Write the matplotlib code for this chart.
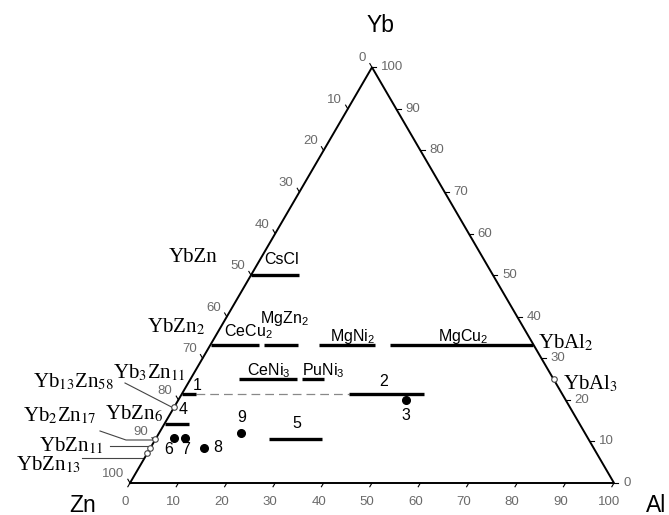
import numpy as np
import matplotlib
matplotlib.use('Agg')
import matplotlib.pyplot as plt

plt.rcParams['mathtext.fontset'] = 'custom'
plt.rcParams['mathtext.rm'] = 'Liberation Sans'
plt.rcParams['mathtext.it'] = 'Liberation Sans'
plt.rcParams['mathtext.bf'] = 'Liberation Sans:bold'

# phase segments: constant Yb (at.%), Al from .. to
seg_names = ['CsCl', 'CeCu2', 'MgZn2', 'MgNi2', 'MgCu2', 'CeNi3', 'PuNi3', '1', '2', '4', '5']
seg_yb = [50, 33.3, 33.3, 33.3, 33.3, 25, 25, 21.4, 21.4, 14.3, 10.5]
seg_al0 = [0, 0, 11, 22.5, 37, 10, 23, 0, 34.5, 0, 23.5]
seg_al1 = [10, 10, 18, 34, 66.7, 22, 27.5, 3, 50, 5, 34.5]

# dashed tie line between phase 1 and phase 2
dash_yb = 21.4
dash_al = [3, 34.5]

# single-phase alloys (filled dots)
pt_names = ['3', '6', '7', '8', '9']
pt_al = [47, 3.7, 6, 11, 17]
pt_yb = [20, 10.8, 10.8, 8.5, 12]

# binary compounds on the edges (open circles)
bin_names = ['Yb13Zn58', 'Yb2Zn17', 'YbZn11', 'YbZn13', 'YbAl3']
bin_al = [0, 0, 0, 0, 75]
bin_yb = [18.3, 10.5, 8.33, 7.14, 25]

ticks = list(range(0, 101, 10))

W, H = 669, 515
SX, SY = 4.84, 4.80
X0, Y0 = 130, 483


def cart(al, yb):
    al = np.asarray(al, float)
    yb = np.asarray(yb, float)
    return al + yb / 2, yb * np.sqrt(3) / 2


def px(x, y):
    # image pixel -> data coords (only for free text)
    return (x - X0) / SX, (Y0 - y) / SY


fig = plt.figure(figsize=(W / 100, H / 100), dpi=100)
ax = fig.add_axes([0, 0, 1, 1])
ax.set_xlim(px(0, 0)[0], px(W, 0)[0])
ax.set_ylim(px(0, H)[1], px(0, 0)[1])
ax.axis('off')

# triangle
tx, ty = cart([0, 100, 0, 0], [0, 0, 100, 0])
ax.plot(tx, ty, color='black', lw=1.4, solid_joinstyle='miter', zorder=3)

grey = '#6a6a6a'
tfont = dict(family='Liberation Sans', fontsize=9.5, color=grey)
L = 0.9
for v in ticks:
    # bottom: Al
    x, y = cart(v, 0)
    ax.plot([x, x - 0.5 * L], [y, y - 0.866 * L], color='black', lw=0.8)
    ax.annotate(str(v), (x, y), xytext=(-5, -19), textcoords='offset pixels',
                ha='center', va='center', **tfont)
    # right: Yb
    x, y = cart(100 - v, v)
    ax.plot([x, x + L], [y, y], color='black', lw=0.8)
    ax.annotate(str(v), (x, y), xytext=(9, 0), textcoords='offset pixels',
                ha='left', va='center', **tfont)
    # left: Zn
    x, y = cart(0, 100 - v)
    ax.plot([x, x - 0.5 * L], [y, y + 0.866 * L], color='black', lw=0.8)
    ax.annotate(str(v), (x, y), xytext=(-6, 9), textcoords='offset pixels',
                ha='right', va='center', **tfont)

# phase lines
for yb, a0, a1 in zip(seg_yb, seg_al0, seg_al1):
    x, y = cart([a0, a1], [yb, yb])
    ax.plot(x, y, color='black', lw=2.4, solid_capstyle='butt', zorder=4)

x, y = cart(dash_al, [dash_yb, dash_yb])
ax.plot(x, y, color='#888888', lw=0.9, dashes=(7, 4), zorder=2)

x, y = cart(pt_al, pt_yb)
ax.plot(x, y, 'o', color='black', ms=5.5, zorder=5)

bx, by = cart(bin_al, bin_yb)
ax.plot(bx, by, 'o', mfc='white', mec='#444444', mew=0.8, ms=4, zorder=6)

# leader lines to the Zn-side compounds
lead_start = [(125, 383), (100, 431), (110, 446), (82, 457.7)]
for i, (sx, sy) in enumerate(lead_start):
    p0 = px(sx, sy)
    if i == 1:
        p1 = px(126, 440)
        ax.plot([p0[0], p1[0], bx[i] - 0.6], [p0[1], p1[1], p1[1]], color='#444444', lw=0.8, zorder=2)
    else:
        ax.plot([p0[0], bx[i] - 0.6], [p0[1], by[i] if i == 0 else p0[1]], color='#444444', lw=0.8, zorder=2)

# corner labels
sans = dict(family='Liberation Sans', ha='center', va='center')
ax.text(*px(381, 25), 'Yb', fontsize=16.5, **sans)
ax.text(*px(83, 505), 'Zn', fontsize=16.5, **sans)
ax.text(*px(656, 505), 'Al', fontsize=16.5, **sans)

# compound names (serif)
serif = dict(family='Liberation Serif', math_fontfamily='stix', fontsize=15, ha='center', va='center')
serif_labels = [
    ('YbZn', 193, 258),
    ('YbZn$_2$', 176, 327),
    ('Yb$_3$Zn$_{11}$', 149, 373),
    ('Yb$_{13}$Zn$_{58}$', 73, 382),
    ('Yb$_2$Zn$_{17}$', 60, 416),
    ('YbZn$_6$', 134, 414),
    ('YbZn$_{11}$', 71, 446),
    ('YbZn$_{13}$', 48, 465),
    ('YbAl$_2$', 566, 343),
    ('YbAl$_3$', 590, 384),
]
for s, x0, y0 in serif_labels:
    ax.text(*px(x0, y0), s, **serif)

# structure types (sans)
stype = dict(family='Liberation Sans', math_fontfamily='custom', fontsize=11.5, ha='center', va='center')
stype_labels = [
    ('CsCl', 282, 260),
    ('MgZn$_2$', 284, 319),
    ('CeCu$_2$', 248, 332),
    ('MgNi$_2$', 353, 336),
    ('MgCu$_2$', 463, 336),
    ('CeNi$_3$', 269, 371),
    ('PuNi$_3$', 323, 371),
]
for s, x0, y0 in stype_labels:
    ax.text(*px(x0, y0), s, **stype)

num_labels = [('1', 197, 385), ('2', 384, 382), ('3', 406, 416), ('4', 183, 410),
              ('5', 297, 423), ('6', 169, 449), ('7', 186, 449), ('8', 218, 448),
              ('9', 242, 417)]
for s, x0, y0 in num_labels:
    ax.text(*px(x0, y0), s, fontsize=11.5, **sans)

fig.savefig('out.png', dpi=100)
